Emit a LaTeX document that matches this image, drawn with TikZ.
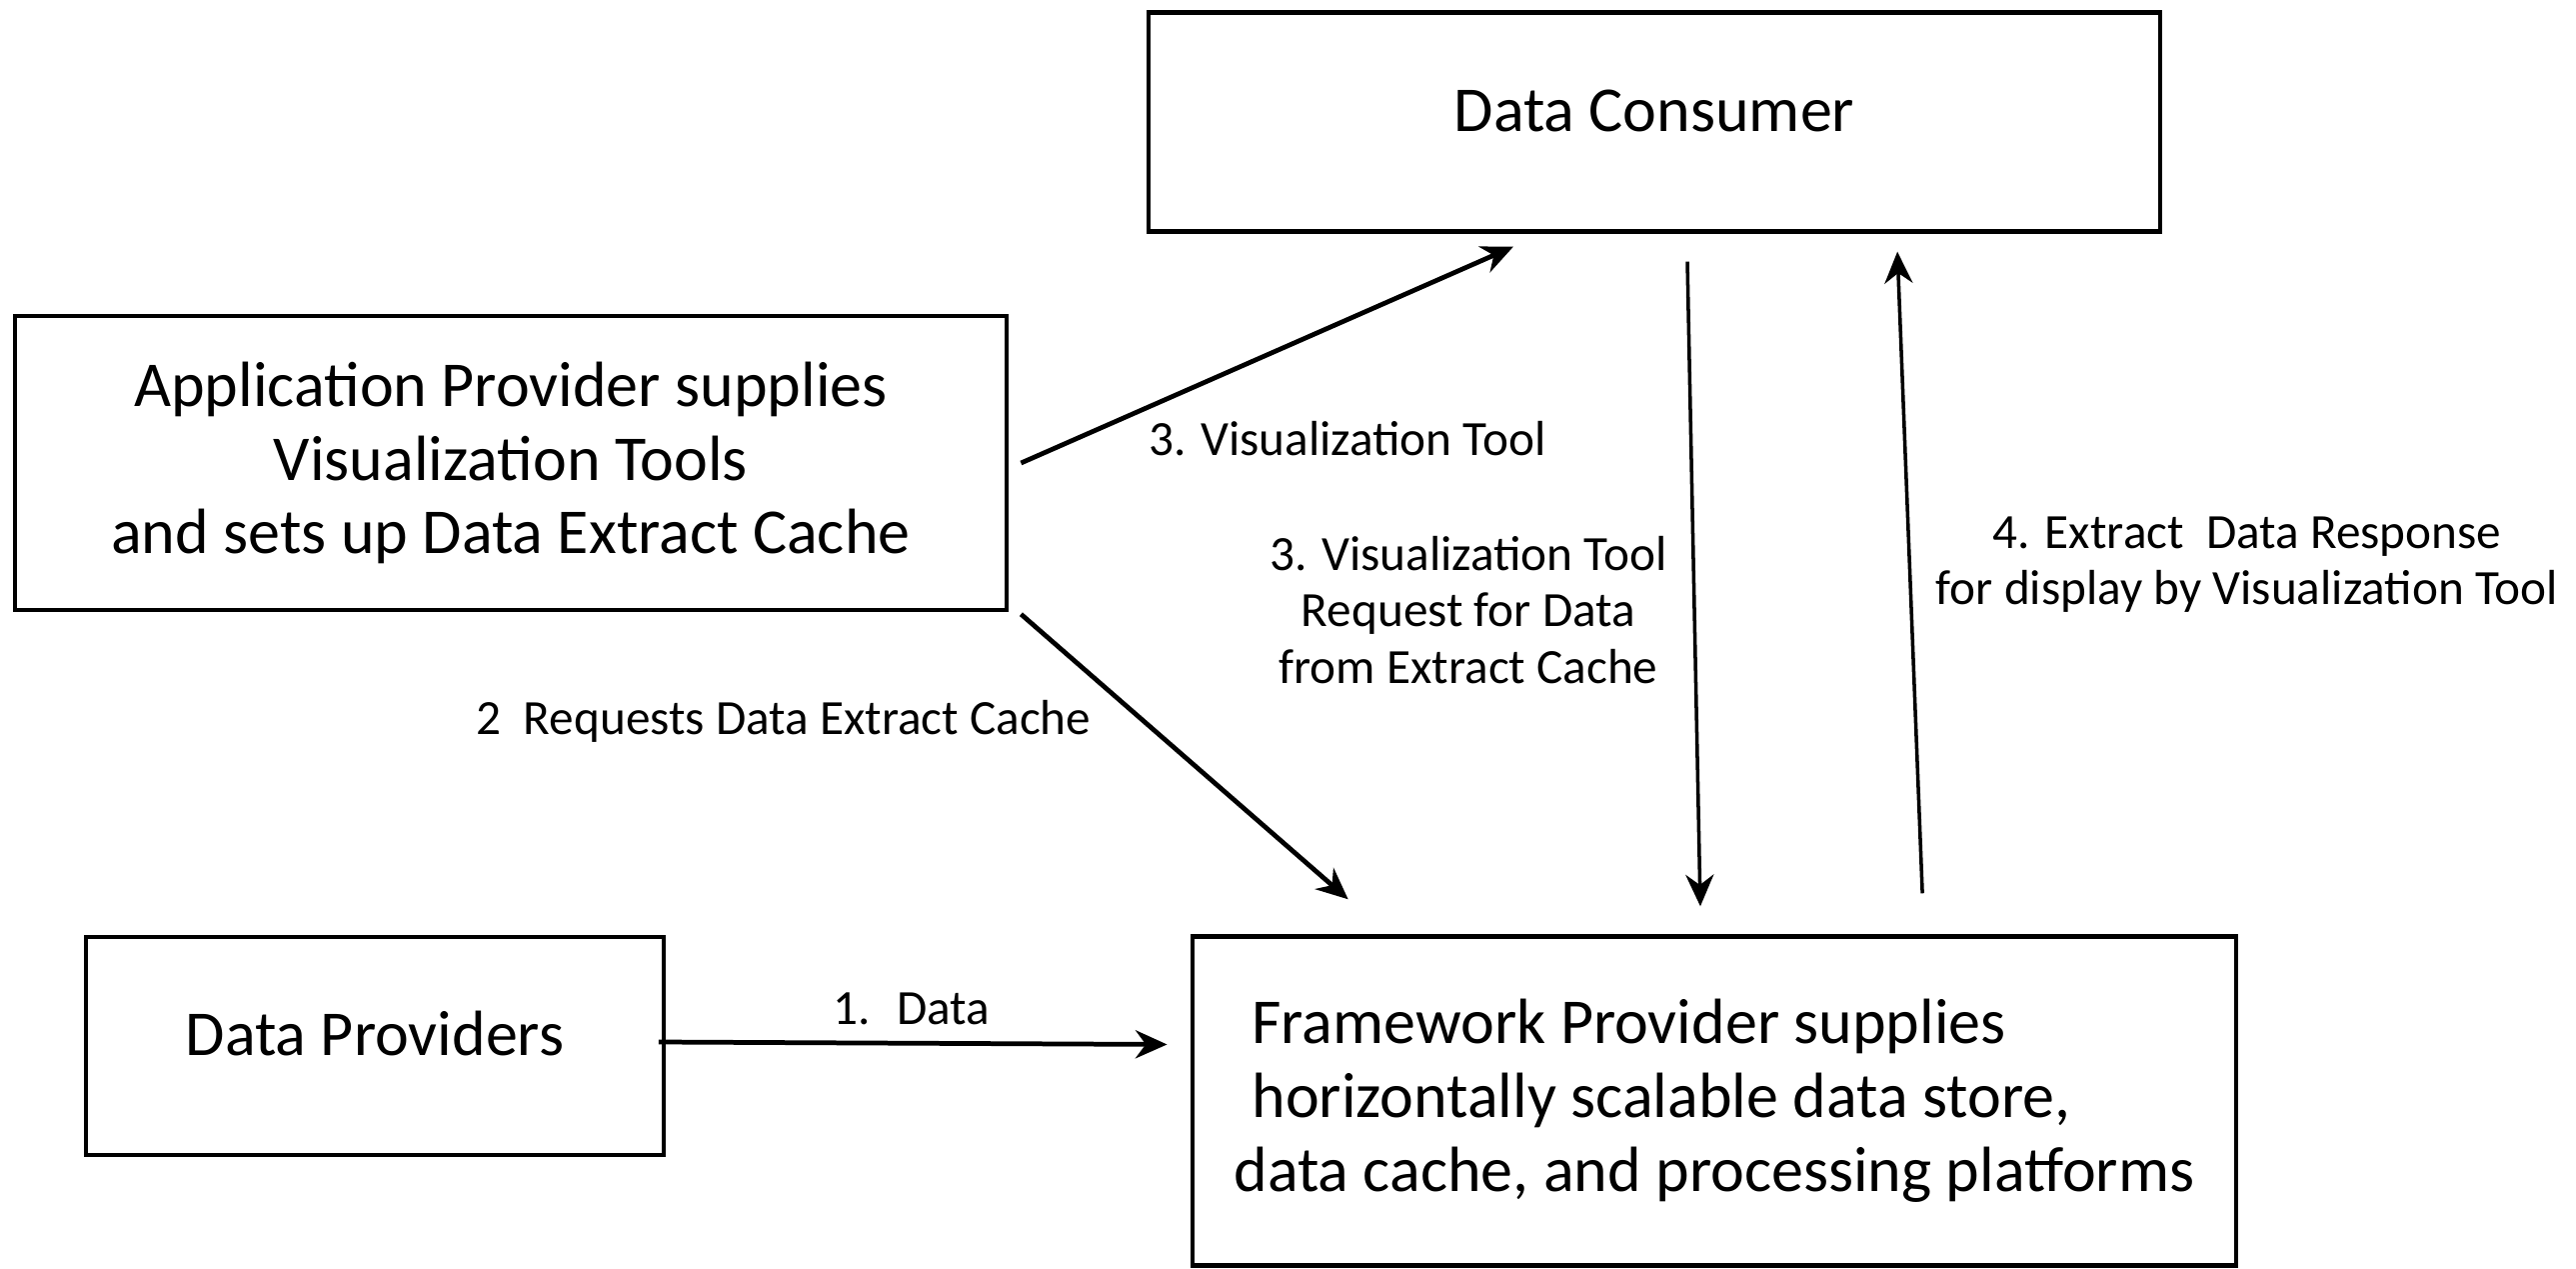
\documentclass[tikz,border=0pt]{standalone}
\usepackage{fontspec}
\setmainfont{Carlito}
\usetikzlibrary{arrows.meta,positioning}

\begin{document}
\begin{tikzpicture}[x=0.01cm, y=-0.01cm,
box/.style = {draw, line width=1.2pt, align=center, inner sep=0pt,
              font=\fontsize{18.2}{21}\selectfont},
lbl/.style = {align=center, font=\fontsize{14}{16}\selectfont},
arr/.style = {-{Stealth[length=9pt,width=8pt]}, line width=1.35pt}
                        ]
\useasboundingbox (0,0) rectangle (2577,1269);

%
\node (cons)  [box, minimum width=10.12cm, minimum height=2.19cm] at (1655,122) {\raisebox{0.22cm}{Data Consumer}};
\node (app)   [box, minimum width=9.92cm, minimum height=2.94cm]  at (511,463)
      {Application Provider supplies\\ Visualization Tools\\ and sets up Data Extract Cache};
\node (prov)  [box, minimum width=5.77cm, minimum height=2.18cm]  at (375,1046) {\raisebox{0.26cm}{Data Providers}};
\node (frame) [box, minimum width=10.44cm, minimum height=3.29cm, align=left] at (1715,1101)
      {\hspace*{0.18cm}Framework Provider supplies\\ \hspace*{0.18cm}horizontally scalable data store,\\ data cache, and processing platforms};

%
\node (lblvis)   [lbl] at (1348,439) {3. Visualization Tool};
\node (lblreq)   [lbl] at (1469,610) {3. Visualization Tool\\ Request for Data\\ from Extract Cache};
\node (lblresp)  [lbl] at (2248,565) {4. Extract~ Data Response\\ for display by Visualization Tool};
\node (lblcache) [lbl] at (784,721)  {2~ Requests Data Extract Cache};
\node (lbldata)  [lbl] at (912,1009) {1.~ Data};

%
\draw[arr] ([xshift=0.12cm]app.east) -- ([shift={(-1.41cm,-0.13cm)}]cons.south);
\draw[arr] ([shift={(0.12cm,-0.02cm)}]app.south east) -- ([shift={(1.58cm,0.35cm)}]frame.north west);
\draw[arr, line width=1pt] ([shift={(0.33cm,-0.28cm)}]cons.south) -- ([shift={(-0.14cm,0.28cm)}]frame.north);
\draw[arr, line width=1pt] ([shift={(2.08cm,0.41cm)}]frame.north) -- ([shift={(2.43cm,-0.18cm)}]cons.south);
\draw[arr] ([shift={(-0.07cm,0.04cm)}]prov.east) -- ([shift={(-0.23cm,0.565cm)}]frame.west);
\end{tikzpicture}
\end{document}
